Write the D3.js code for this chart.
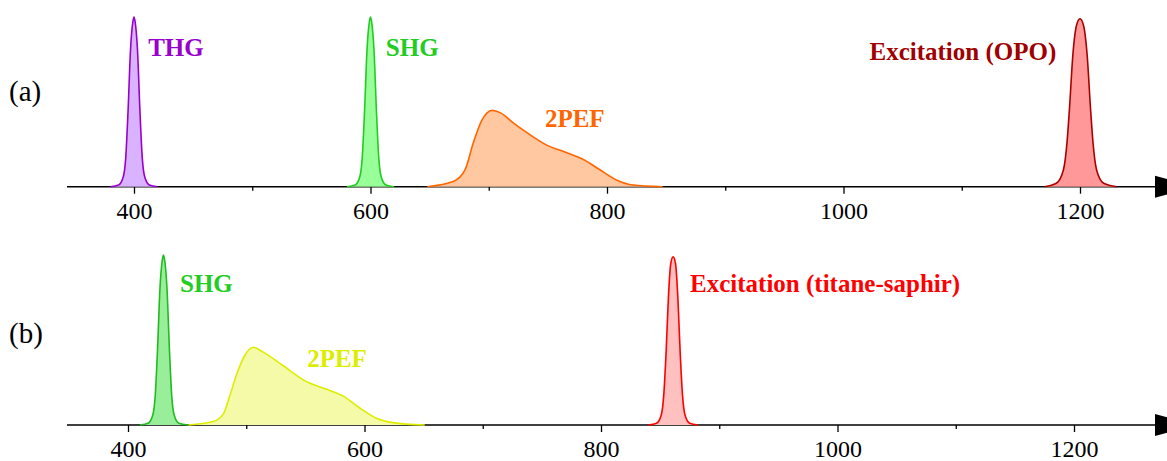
<!DOCTYPE html>
<html>
<head>
<meta charset="utf-8">
<script src="https://cdn.jsdelivr.net/npm/d3@7"></script>
<style>
  body { margin: 0; background: #fff; }
  text { font-family: "Liberation Serif", "Times New Roman", serif; }
</style>
</head>
<body>
<div id="chart"></div>
<script>
// Spectra: wavelength (nm) and relative intensity

// (a) OPO excitation
const thgNm = [380, 387, 391, 393, 395, 397, 399, 400, 401, 403, 405, 407, 409, 413, 420];
const thgI  = [0, 0.01, 0.06, 0.17, 0.45, 0.8, 0.97, 1, 0.97, 0.8, 0.45, 0.17, 0.06, 0.01, 0];

const shgANm = [580, 587, 591, 593, 595, 597, 599, 600, 601, 603, 605, 607, 609, 613, 620];
const shgAI  = [0, 0.01, 0.06, 0.17, 0.45, 0.8, 0.97, 1, 0.97, 0.8, 0.45, 0.17, 0.06, 0.01, 0];

const pefANm = [648, 670, 680, 687, 694, 703, 710, 721, 732, 749, 766, 780, 794, 808, 822, 847];
const pefAI  = [0, 0.03, 0.1, 0.26, 0.39, 0.45, 0.435, 0.375, 0.32, 0.245, 0.2, 0.16, 0.1, 0.04, 0.01, 0];

const opoNm = [1170, 1180, 1186, 1189, 1191, 1194, 1197, 1200, 1203, 1206, 1209, 1211, 1214, 1220, 1231];
const opoI  = [0, 0.02, 0.1, 0.26, 0.45, 0.78, 0.95, 0.99, 0.95, 0.78, 0.45, 0.26, 0.1, 0.02, 0];

// (b) titane-saphir excitation
const shgBNm = [410, 417, 421, 423, 425, 427, 429, 430, 431, 433, 435, 437, 439, 443, 451];
const shgBI  = [0, 0.01, 0.06, 0.17, 0.45, 0.8, 0.97, 1, 0.97, 0.8, 0.45, 0.17, 0.06, 0.01, 0];

const pefBNm = [451, 472, 481, 486, 492, 498, 506, 514, 531, 551, 568, 582, 596, 610, 624, 651];
const pefBI  = [0, 0.02, 0.07, 0.17, 0.3, 0.4, 0.457, 0.43, 0.35, 0.255, 0.21, 0.17, 0.1, 0.04, 0.014, 0];

const tisNm = [840, 847, 851, 853, 855, 857, 859, 861, 863, 865, 867, 869, 871, 875, 882];
const tisI  = [0, 0.01, 0.06, 0.17, 0.42, 0.75, 0.95, 0.99, 0.95, 0.75, 0.42, 0.17, 0.06, 0.01, 0];

const majorTicks = [400, 600, 800, 1000, 1200];
const minorTicks = [500, 700, 900, 1100];

const width = 1167, height = 461;

const svg = d3.select("#chart")
  .append("svg")
  .attr("width", width)
  .attr("height", height);

// two panels, same scale, slightly shifted
const panels = [
  {
    name: "(a)", nameY: 101, base: 186.7, top: 17, x0: 134, x1: 1080,
    series: [
      {nm: thgNm, v: thgI, stroke: "#9900cc", fill: "#d9b3ff"},
      {nm: shgANm, v: shgAI, stroke: "#22cc22", fill: "#99ff99"},
      {nm: pefANm, v: pefAI, stroke: "#ff6600", fill: "#ffc8a0"},
      {nm: opoNm, v: opoI, stroke: "#aa0000", fill: "#ff9999"}
    ],
    labels: [
      {text: "THG", nm: 412, v: 0.77, color: "#9900cc"},
      {text: "SHG", nm: 613, v: 0.77, color: "#22cc22"},
      {text: "2PEF", nm: 747.5, v: 0.352, color: "#ff6600"},
      {text: "Excitation (OPO)", nm: 1022, v: 0.747, color: "#a00000"}
    ]
  },
  {
    name: "(b)", nameY: 343, base: 425, top: 255, x0: 128, x1: 1074,
    series: [
      {nm: shgBNm, v: shgBI, stroke: "#22bb22", fill: "#99ee99"},
      {nm: pefBNm, v: pefBI, stroke: "#dded00", fill: "#f5faa8"},
      {nm: tisNm, v: tisI, stroke: "#ff0000", fill: "#ffc0c0"}
    ],
    labels: [
      {text: "SHG", nm: 444, v: 0.784, color: "#22cc22"},
      {text: "2PEF", nm: 551.5, v: 0.343, color: "#dded00"},
      {text: "Excitation (titane-saphir)", nm: 875.3, v: 0.784, color: "#ff0000"}
    ]
  }
];

panels.forEach(p => {
  const x = d3.scaleLinear().domain([400, 1200]).range([p.x0, p.x1]);
  const y = d3.scaleLinear().domain([0, 1]).range([p.base, p.top]);
  const g = svg.append("g");

  // axis line + arrow
  g.append("line")
    .attr("x1", 67).attr("x2", 1160)
    .attr("y1", p.base).attr("y2", p.base)
    .attr("stroke", "#000").attr("stroke-width", 1.6);
  g.append("path")
    .attr("d", `M1155,${p.base - 11}L1196,${p.base}L1155,${p.base + 11}Z`)
    .attr("fill", "#000");

  // major ticks with labels
  const axis = g.append("g")
    .attr("transform", `translate(0, ${p.base})`)
    .call(d3.axisBottom(x).tickValues(majorTicks).tickSize(7).tickPadding(8).tickFormat(d3.format("d")));
  axis.select(".domain").remove();
  axis.selectAll(".tick line").attr("stroke-width", 1.3);
  axis.selectAll(".tick text")
    .attr("font-size", 24)
    .attr("font-family", "Liberation Serif, serif")
    .attr("fill", "#000");

  // minor ticks
  g.append("g")
    .attr("transform", `translate(0, ${p.base})`)
    .call(d3.axisBottom(x).tickValues(minorTicks).tickSize(4).tickFormat(""))
    .call(a => a.select(".domain").remove())
    .selectAll(".tick line").attr("stroke-width", 1.3);

  // spectra
  p.series.forEach(s => {
    const pts = s.nm.map((n, i) => [n, s.v[i]]);
    g.append("path")
      .datum(pts)
      .attr("fill", s.fill)
      .attr("d", d3.area().x(d => x(d[0])).y0(y(0)).y1(d => y(d[1])).curve(d3.curveMonotoneX));
    g.append("path")
      .datum(pts)
      .attr("fill", "none")
      .attr("stroke", s.stroke)
      .attr("stroke-width", 1.6)
      .attr("d", d3.line().x(d => x(d[0])).y(d => y(d[1])).curve(d3.curveMonotoneX));
  });

  // peak labels
  g.selectAll(".lab")
    .data(p.labels)
    .join("text")
      .attr("x", d => x(d.nm))
      .attr("y", d => y(d.v))
      .attr("fill", d => d.color)
      .attr("font-size", 25)
      .attr("font-weight", "bold")
      .text(d => d.text);

  // panel name
  g.append("text")
    .attr("x", 9)
    .attr("y", p.nameY)
    .attr("font-size", 29)
    .attr("fill", "#000")
    .text(p.name);
});
</script>
</body>
</html>
